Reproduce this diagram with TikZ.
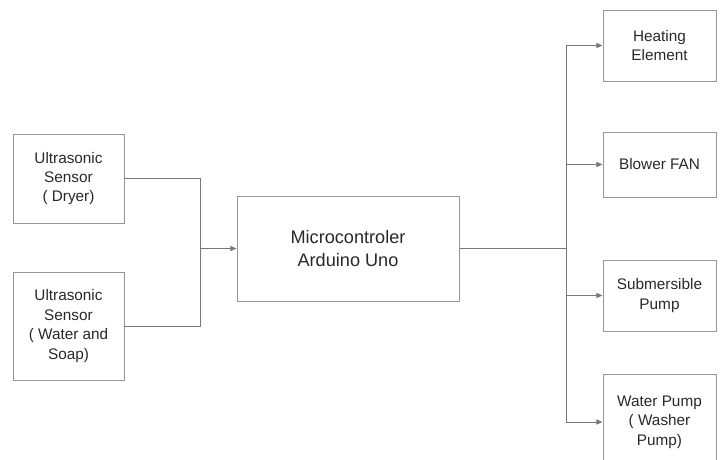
\documentclass[tikz,border=0pt]{standalone}
\usepackage{fontspec}
\setmainfont{Liberation Sans}
\usepackage{tikz}
\usetikzlibrary{positioning, arrows.meta, calc}
\definecolor{BoxGray}{RGB}{150,150,150}
\definecolor{WireGray}{RGB}{120,120,120}
\definecolor{TxtGray}{RGB}{40,40,40}

\begin{document}
\begin{tikzpicture}[
      blk/.style={rectangle, draw=BoxGray, line width=0.7pt, align=center,
                  text=TxtGray, inner sep=2pt,
                  font=\fontsize{10.9}{13.8}\selectfont},
      mcu/.style={blk, font=\fontsize{12.9}{15.9}\selectfont},
      wire/.style={draw=WireGray, line width=0.7pt},
      arr/.style={wire, -{Triangle[length=4.3pt, width=3.6pt]}}
    ]
    \useasboundingbox (0,0) rectangle (18.05,11.475);

    %--- Sensors (left) ---
    \node[blk, minimum width=2.775cm, minimum height=2.225cm] (dryer)
          at (1.7125, 7.0125) {Ultrasonic\\Sensor\\( Dryer)};
    \node[blk, minimum width=2.775cm, minimum height=2.7cm] (soap)
          at (1.7125, 3.325) {Ultrasonic\\Sensor\\( Water and\\Soap)};

    %--- Controller ---
    \node[mcu, minimum width=5.55cm, minimum height=2.625cm] (ctrl)
          at (8.7, 5.2625) {Microcontroler\\Arduino Uno};

    %--- Actuators (right) ---
    \node[blk, minimum width=2.825cm, minimum height=1.775cm] (heat)
          at (16.4875, 10.3375) {Heating\\Element};
    \node[blk, minimum width=2.825cm, minimum height=1.625cm] (fan)
          at (16.4875, 7.3625) {Blower FAN};
    \node[blk, minimum width=2.825cm, minimum height=1.775cm] (sub)
          at (16.4875, 4.0875) {Submersible\\Pump};
    \node[blk, minimum width=2.825cm, minimum height=2.4cm] (wash)
          at (16.4875, 0.925) {Water Pump\\( Washer\\Pump)};

    % junction points
    \coordinate (join) at (5.0, 0 |- ctrl.west);
    \coordinate (bus) at (14.15, 0 |- ctrl.east);

    %--- Inputs merge into controller ---
    \draw[wire] (dryer.east) -| (join);
    \draw[wire] (soap.east) -| (join);
    \draw[arr] (join) -- (ctrl.west);

    %--- Controller fans out to actuators ---
    \draw[wire] (ctrl.east) -- (bus);
    \draw[wire] (bus |- heat.west) -- (bus |- wash.west);
    \foreach \dev in {heat, fan, sub, wash} {
      \draw[arr] (bus |- \dev.west) -- (\dev.west);
    }
\end{tikzpicture}
\end{document}
